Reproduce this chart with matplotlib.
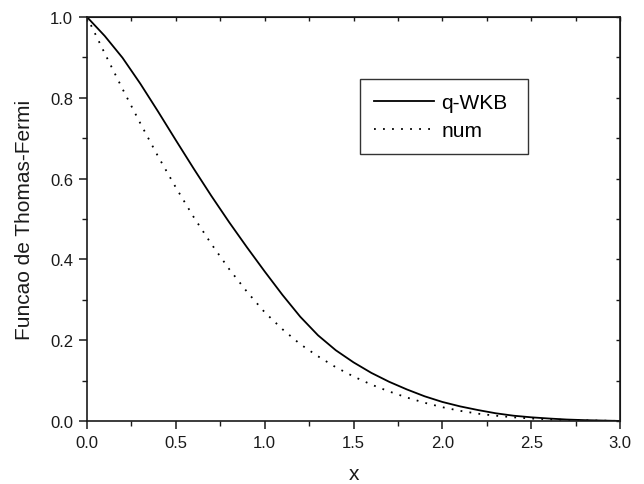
import matplotlib
matplotlib.use("Agg")
import matplotlib.pyplot as plt
from matplotlib.ticker import MultipleLocator

plt.rcParams['font.family'] = ['Liberation Sans', 'DejaVu Sans']

# valores
x = [0.0, 0.1, 0.2, 0.3, 0.4, 0.5, 0.6, 0.7, 0.8, 0.9, 1.0, 1.1, 1.2, 1.3,
     1.4, 1.5, 1.6, 1.7, 1.8, 1.9, 2.0, 2.1, 2.2, 2.3, 2.4, 2.5, 2.6, 2.7,
     2.8, 2.9, 3.0]
q_wkb = [1.0, 0.953, 0.899, 0.835, 0.766, 0.695, 0.625, 0.557, 0.492, 0.430,
         0.370, 0.312, 0.258, 0.212, 0.175, 0.145, 0.119, 0.097, 0.078,
         0.061, 0.047, 0.036, 0.027, 0.019, 0.013, 0.009, 0.006, 0.0035,
         0.002, 0.001, 0.0]
num = [1.0, 0.91, 0.822, 0.737, 0.655, 0.578, 0.505, 0.438, 0.376, 0.320,
       0.269, 0.227, 0.190, 0.160, 0.133, 0.110, 0.090, 0.073, 0.058, 0.045,
       0.034, 0.025, 0.018, 0.013, 0.009, 0.006, 0.004, 0.0025, 0.0015,
       0.0007, 0.0]

fig = plt.figure(figsize=(6.44, 4.85), dpi=100)
ax = fig.add_axes([0.135, 0.130, 0.828, 0.833])

ax.plot(x, q_wkb, color="black", lw=1.3, label="q-WKB")
ax.plot(x, num, color="black", lw=1.3, linestyle=(0, (1, 4)), label="num")

ax.set_xlim(0, 3)
ax.set_ylim(0, 1)
ax.xaxis.set_major_locator(MultipleLocator(0.5))
ax.xaxis.set_minor_locator(MultipleLocator(0.25))
ax.yaxis.set_major_locator(MultipleLocator(0.2))
ax.yaxis.set_minor_locator(MultipleLocator(0.1))
ax.xaxis.set_major_formatter(plt.FormatStrFormatter('%.1f'))
ax.yaxis.set_major_formatter(plt.FormatStrFormatter('%.1f'))

for s in ax.spines.values():
    s.set_linewidth(1.2)
    s.set_color("#1a1a1a")

ax.tick_params(which="major", direction="out", length=6, width=1.1,
               labelsize=12, pad=4, colors="#1a1a1a")
ax.tick_params(which="minor", direction="out", length=3.5, width=1.0,
               colors="#1a1a1a")
# ticks internos no topo e na direita
ax2 = ax.secondary_xaxis("top")
ax2.xaxis.set_major_locator(MultipleLocator(0.5))
ax2.xaxis.set_minor_locator(MultipleLocator(0.25))
ax2.tick_params(which="both", direction="in", length=3, width=1.0,
                labeltop=False, colors="#1a1a1a")
ax3 = ax.secondary_yaxis("right")
ax3.yaxis.set_major_locator(MultipleLocator(0.2))
ax3.yaxis.set_minor_locator(MultipleLocator(0.1))
ax3.tick_params(which="both", direction="in", length=3, width=1.0,
                labelright=False, colors="#1a1a1a")

ax.set_xlabel("x", fontsize=15, color="#1a1a1a", labelpad=10)
ax.set_ylabel("Funcao de Thomas-Fermi", fontsize=15, color="#1a1a1a")
ax.yaxis.set_label_coords(-0.099, 0.5)

leg = ax.legend(loc="upper left", bbox_to_anchor=(0.512, 0.666, 0.316, 0.18),
                mode="expand", fontsize=15,
                handlelength=2.9, handletextpad=0.35, labelspacing=0.45,
                borderpad=0.66, fancybox=False, framealpha=1,
                edgecolor="#333333", borderaxespad=0)
leg.get_frame().set_linewidth(1.0)

fig.savefig("out.png", dpi=100)
